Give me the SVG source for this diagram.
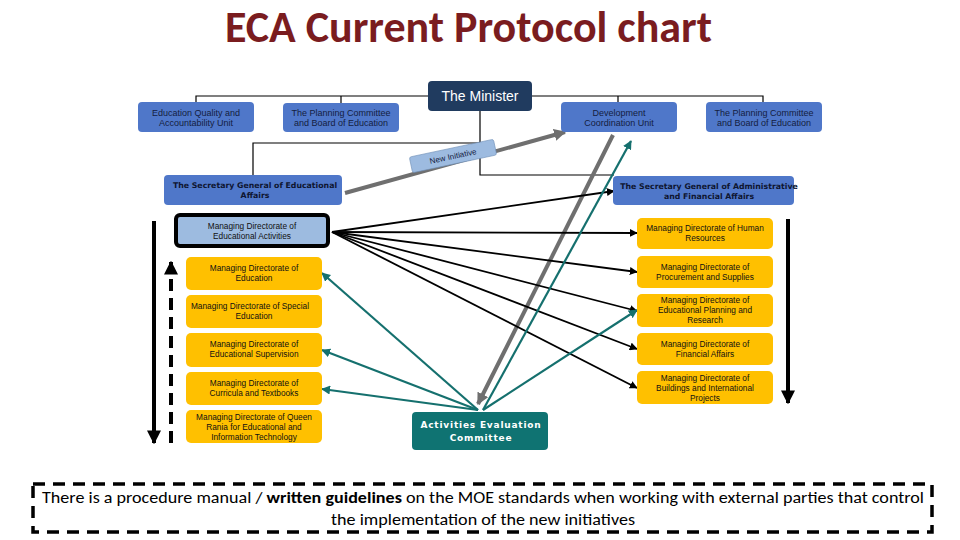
<svg xmlns="http://www.w3.org/2000/svg" width="960" height="540" viewBox="0 0 960 540">
<defs>
<style>
.blue{fill:#4f77c9;}
.yel{fill:#ffc000;}
.bt{font-family:"Liberation Sans",Arial,sans-serif;font-size:9px;fill:#14203f;text-anchor:middle;}
.yt{font-family:"Liberation Sans",Arial,sans-serif;font-size:8.3px;fill:#111;text-anchor:middle;}
.sg{font-family:"DejaVu Sans",Verdana,sans-serif;font-weight:bold;font-size:7.8px;fill:#0e1530;text-anchor:middle;}
.tree{stroke:#000;stroke-width:1.2;fill:none;}
.blk{stroke:#000;stroke-width:1.8;fill:none;marker-end:url(#ab);}
.teal{stroke:#15706e;stroke-width:2.2;fill:none;marker-end:url(#at);}
.gray{stroke:#6f6f6f;stroke-width:4;fill:none;marker-end:url(#ag);}
</style>
<marker id="ab" viewBox="0 0 10 10" refX="9" refY="5" markerWidth="8" markerHeight="8" markerUnits="userSpaceOnUse" orient="auto"><path d="M0,0 L10,5 L0,10 Z" fill="#000"/></marker>
<marker id="at" viewBox="0 0 10 10" refX="9" refY="5" markerWidth="9" markerHeight="9" markerUnits="userSpaceOnUse" orient="auto"><path d="M0,0 L10,5 L0,10 Z" fill="#15706e"/></marker>
<marker id="ag" viewBox="0 0 10 10" refX="9" refY="5" markerWidth="12" markerHeight="12" markerUnits="userSpaceOnUse" orient="auto"><path d="M0,0 L10,5 L0,10 Z" fill="#6f6f6f"/></marker>
<marker id="abig" viewBox="0 0 10 10" refX="9" refY="5" markerWidth="14" markerHeight="14" markerUnits="userSpaceOnUse" orient="auto"><path d="M0,0 L10,5 L0,10 Z" fill="#000"/></marker>
</defs>
<rect width="960" height="540" fill="#fff"/>
<text x="225" y="42" font-family="Carlito,'Open Sans','Liberation Sans',sans-serif" font-weight="bold" font-size="44" fill="#7a1c1f" textLength="487" lengthAdjust="spacingAndGlyphs">ECA Current Protocol chart</text>

<g id="connectors">
<path class="tree" d="M196,102 V96 H763 V102 M341,96 V103 M618,96 V102 M480,111 V175 H614 M253,176 V143 H480"/>
<line class="gray" x1="345" y1="193" x2="565" y2="132"/>
<line class="gray" x1="613" y1="135" x2="478" y2="404"/>
<line class="blk" x1="332" y1="232" x2="614" y2="191"/>
<line class="blk" x1="332" y1="232" x2="637" y2="233"/>
<line class="blk" x1="332" y1="232" x2="637" y2="272"/>
<line class="blk" x1="332" y1="232" x2="637" y2="311"/>
<line class="blk" x1="332" y1="232" x2="637" y2="349"/>
<line class="blk" x1="332" y1="232" x2="637" y2="388"/>
<line class="teal" x1="478" y1="410" x2="322" y2="273"/>
<line class="teal" x1="478" y1="410" x2="322" y2="350"/>
<line class="teal" x1="478" y1="410" x2="322" y2="389"/>
<line class="teal" x1="483" y1="410" x2="637" y2="310"/>
<line class="teal" x1="483" y1="410" x2="631" y2="141"/>
<line x1="154" y1="221" x2="154" y2="443" stroke="#000" stroke-width="4" marker-end="url(#abig)"/>
<line x1="171" y1="443" x2="171" y2="262" stroke="#000" stroke-width="4" stroke-dasharray="12,7" marker-end="url(#abig)"/>
<line x1="788" y1="219" x2="788" y2="403" stroke="#000" stroke-width="4" marker-end="url(#abig)"/>
</g>

<g id="minister"><rect x="428" y="81" width="104" height="30" rx="4" fill="#203b5f"/><text x="480" y="101" font-family="'Liberation Sans',Arial,sans-serif" font-size="14" fill="#fff" text-anchor="middle">The Minister</text></g>
<g id="eq"><rect class="blue" x="138" y="102" width="116" height="30" rx="4"/><text class="bt" x="196" y="116">Education Quality and</text><text class="bt" x="196" y="126">Accountability Unit</text></g>
<g id="pc1"><rect class="blue" x="283" y="103" width="116" height="29" rx="4"/><text class="bt" x="341" y="116">The Planning Committee</text><text class="bt" x="341" y="126">and Board of Education</text></g>
<g id="dcu"><rect class="blue" x="561" y="102" width="116" height="30" rx="4"/><text class="bt" x="619" y="116" font-size="10">Development</text><text class="bt" x="619" y="126" font-size="10">Coordination Unit</text></g>
<g id="pc2"><rect class="blue" x="706" y="102" width="116" height="30" rx="4"/><text class="bt" x="764" y="116">The Planning Committee</text><text class="bt" x="764" y="126">and Board of Education</text></g>
<g id="sge"><rect class="blue" x="164" y="175" width="178" height="30" rx="4"/><text class="sg" x="255" y="188">The Secretary General of Educational</text><text class="sg" x="255" y="198">Affairs</text></g>
<g id="sga"><rect class="blue" x="613" y="176" width="181" height="29" rx="4"/><text class="sg" x="709" y="189">The Secretary General of Administrative</text><text class="sg" x="709" y="199">and Financial Affairs</text></g>

<g id="newinit" transform="translate(453,156) rotate(-12)"><rect x="-43" y="-8" width="86" height="16" rx="2" fill="#9dbbe0" stroke="#6f8fb8" stroke-width="0.6"/><text x="0" y="3" font-family="'Liberation Sans',Arial,sans-serif" font-size="8" fill="#14203f" text-anchor="middle">New Initiative</text></g>

<g id="mdea"><rect x="176" y="215" width="152" height="31" rx="4" fill="#9dbbe0" stroke="#000" stroke-width="4"/><text class="yt" x="252" y="229">Managing Directorate of</text><text class="yt" x="252" y="239">Educational Activities</text></g>
<g id="mde"><rect class="yel" x="186" y="257" width="136" height="33" rx="5"/><text class="yt" x="254" y="271">Managing Directorate of</text><text class="yt" x="254" y="281">Education</text></g>
<g id="mdse"><rect class="yel" x="186" y="295" width="136" height="33" rx="5"/><text class="yt" x="250" y="309">Managing Directorate of Special</text><text class="yt" x="254" y="319">Education</text></g>
<g id="mdes"><rect class="yel" x="186" y="333" width="136" height="34" rx="5"/><text class="yt" x="254" y="347">Managing Directorate of</text><text class="yt" x="254" y="357">Educational Supervision</text></g>
<g id="mdct"><rect class="yel" x="186" y="372" width="136" height="33" rx="5"/><text class="yt" x="254" y="386">Managing Directorate of</text><text class="yt" x="254" y="396">Curricula and Textbooks</text></g>
<g id="mdqr"><rect class="yel" x="186" y="410" width="136" height="33" rx="5"/><text class="yt" x="254" y="420">Managing Directorate of Queen</text><text class="yt" x="254" y="430">Rania for Educational and</text><text class="yt" x="254" y="440">Information Technology</text></g>

<g id="mdhr"><rect class="yel" x="637" y="218" width="136" height="31" rx="5"/><text class="yt" x="705" y="231">Managing Directorate of Human</text><text class="yt" x="705" y="241">Resources</text></g>
<g id="mdps"><rect class="yel" x="637" y="256" width="136" height="32" rx="5"/><text class="yt" x="705" y="270">Managing Directorate of</text><text class="yt" x="705" y="280">Procurement and Supplies</text></g>
<g id="mdpr"><rect class="yel" x="637" y="294" width="136" height="33" rx="5"/><text class="yt" x="705" y="303">Managing Directorate of</text><text class="yt" x="705" y="313">Educational Planning and</text><text class="yt" x="705" y="323">Research</text></g>
<g id="mdfa"><rect class="yel" x="637" y="333" width="136" height="32" rx="5"/><text class="yt" x="705" y="347">Managing Directorate of</text><text class="yt" x="705" y="357">Financial Affairs</text></g>
<g id="mdbi"><rect class="yel" x="637" y="371" width="136" height="33" rx="5"/><text class="yt" x="705" y="381">Managing Directorate of</text><text class="yt" x="705" y="391">Buildings and International</text><text class="yt" x="705" y="401">Projects</text></g>

<g id="aec"><rect x="412" y="412" width="136" height="38" rx="4" fill="#0f7372"/><text x="481" y="428" font-family="'DejaVu Sans',Verdana,sans-serif" font-weight="bold" font-size="9" fill="#fff" text-anchor="middle" letter-spacing="0.8">Activities Evaluation</text><text x="481" y="441" font-family="'DejaVu Sans',Verdana,sans-serif" font-weight="bold" font-size="9" fill="#fff" text-anchor="middle" letter-spacing="0.8">Committee</text></g>

<g id="note"><rect x="33" y="484" width="899" height="48" fill="none" stroke="#000" stroke-width="3.5" stroke-dasharray="12,8"/>
<text x="42" y="503" font-family="Carlito,'Liberation Sans',sans-serif" font-size="15.5" fill="#000" textLength="882" lengthAdjust="spacingAndGlyphs">There is a procedure manual / <tspan font-weight="bold">written guidelines</tspan>  on the MOE standards when working with external parties that control</text>
<text x="483" y="525" font-family="Carlito,'Liberation Sans',sans-serif" font-size="15.5" fill="#000" text-anchor="middle" textLength="304" lengthAdjust="spacingAndGlyphs">the implementation of the new initiatives</text></g>
</svg>
